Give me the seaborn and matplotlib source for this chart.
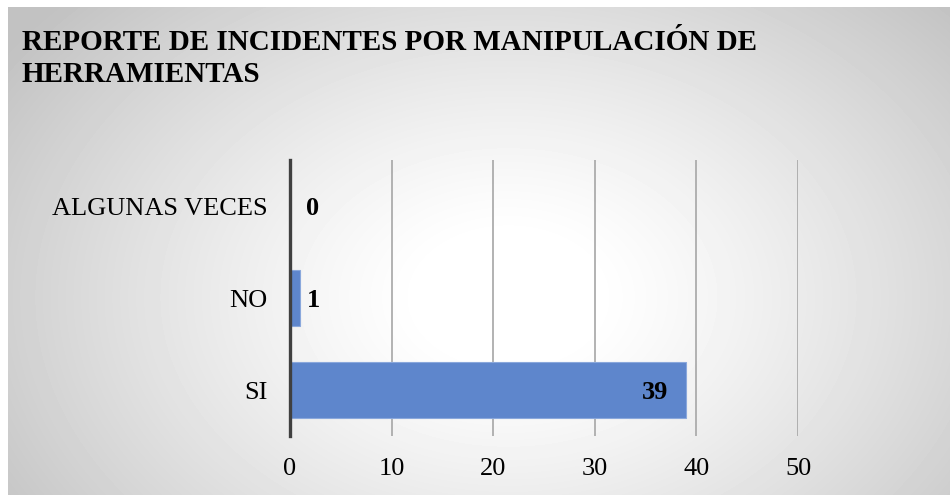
import numpy as np
import pandas as pd
import matplotlib
matplotlib.use("Agg")
import matplotlib.pyplot as plt
import seaborn as sns

categories = ["ALGUNAS VECES", "NO", "SI"]
values = [0, 1, 39]
x_ticks = [0, 10, 20, 30, 40, 50]
title = "REPORTE DE INCIDENTES POR MANIPULACIÓN DE\nHERRAMIENTAS"

sns.set_style("white")
plt.rcParams["font.family"] = ["Liberation Serif", "DejaVu Serif"]
plt.rcParams["text.color"] = "black"
plt.rcParams["xtick.color"] = "black"
plt.rcParams["ytick.color"] = "black"

W, H = 950, 495
fig = plt.figure(figsize=(W / 100, H / 100), dpi=100)
fig.patch.set_facecolor("white")

# radial gradient panel behind the chart
bg = fig.add_axes([8 / W, 0, 1 - 8 / W, 1 - 7 / H])
yy, xx = np.mgrid[0:488, 0:942]
cx, cy = 500, 290
r = np.sqrt(((xx - cx) / 560) ** 2 + ((yy - cy) / 400) ** 2)
shade = np.clip(1.0 - 0.26 * np.clip(r - 0.15, 0, None) ** 1.2, 0.76, 1.0)
bg.imshow(shade, cmap="gray", vmin=0, vmax=1, aspect="auto", interpolation="bilinear")
bg.set_axis_off()

ax = fig.add_axes([290 / W, 1 - 436 / H, (798 - 290) / W, (436 - 160) / H])
ax.patch.set_alpha(0)
df = pd.DataFrame({"cat": categories, "val": values})
sns.barplot(data=df, y="cat", x="val", orient="h", color="#5E86CC", width=0.6,
            saturation=1, ax=ax, edgecolor="#8AA8DC", linewidth=0.8, zorder=3)

ax.set_xlim(0, 50)
ax.set_xticks(x_ticks)
ax.set_xticklabels([str(t) for t in x_ticks], fontsize=19)
ax.tick_params(axis="y", labelsize=19, length=0, pad=16)
ax.tick_params(axis="x", length=0, pad=16)
ax.set_xlabel("")
ax.set_ylabel("")
ax.grid(axis="x", color="#a6a6a6", linewidth=1.2, zorder=0)
ax.grid(axis="y", visible=False)
for s in ["top", "right", "bottom"]:
    ax.spines[s].set_visible(False)
ax.spines["left"].set_color("#404040")
ax.spines["left"].set_linewidth(2.4)
ax.spines["left"].set_zorder(5)

# value labels: inside the end of long bars, just past short ones
px_per_unit = (798 - 290) / 50
for i, v in enumerate(values):
    if v > 10:
        ax.annotate(str(v), (v, i), xytext=(-13, -1.5), textcoords="offset points",
                    ha="right", va="center", fontsize=19, fontweight="bold")
    else:
        off_px = max(7.0, 16.0 - v * px_per_unit)
        ax.annotate(str(v), (v, i), xytext=(off_px * 0.72, -1.5), textcoords="offset points",
                    ha="left", va="center", fontsize=19, fontweight="bold")

fig.text(22 / W, 1 - 29 / H, title, ha="left", va="top", fontsize=21,
         fontweight="bold", linespacing=1.24)

fig.savefig("out.png", dpi=100)
